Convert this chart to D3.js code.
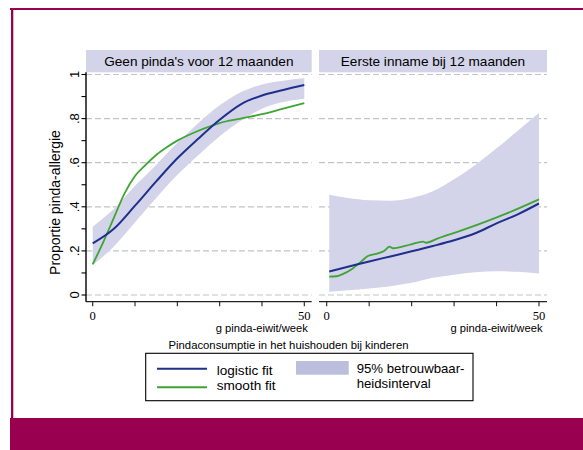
<!DOCTYPE html>
<html>
<head>
<meta charset="utf-8">
<script src="https://cdn.jsdelivr.net/npm/d3@7"></script>
<style>
  html, body { margin: 0; padding: 0; background: #fff; }
  svg { display: block; }
  text { font-family: 'Liberation Sans', Arial, sans-serif; fill: #000; }
  .serif { font-family: 'Liberation Serif', 'Times New Roman', serif; }
</style>
</head>
<body>
<svg id="chart" width="583" height="450"></svg>
<script>
// Proportion peanut allergy vs. household peanut consumption, two panels
// (no peanut before 12 months / first intake at 12 months).
var panelTitles = ["Geen pinda's voor 12 maanden", 'Eerste inname bij 12 maanden'];
var xTicks = [0, 10, 20, 30, 40, 50];
var xTickLabels = ['0', '', '', '', '', '50'];
var yTicks = [0, 0.1, 0.2, 0.3, 0.4, 0.5, 0.6, 0.7, 0.8, 0.9, 1];
var yLabelTicks = [0, 0.2, 0.4, 0.6, 0.8, 1];
var yLabels = ['0', '.2', '.4', '.6', '.8', '1'];

// panel 1
var p1X = [0, 5, 10, 15, 20, 25, 30, 35, 40, 45, 50];
var p1Logit = [0.234, 0.30, 0.405, 0.515, 0.62, 0.71, 0.795, 0.865, 0.905, 0.93, 0.952];
var p1Upper = [0.31, 0.39, 0.495, 0.59, 0.69, 0.78, 0.86, 0.92, 0.955, 0.972, 0.983];
var p1Lower = [0.136, 0.22, 0.33, 0.44, 0.545, 0.635, 0.72, 0.79, 0.845, 0.875, 0.89];
var p1SmoothX = [0, 2.5, 5, 7.5, 10, 12.5, 15, 17.5, 20, 25, 30, 35, 40, 45, 50];
var p1Smooth = [0.139, 0.24, 0.35, 0.46, 0.54, 0.59, 0.635, 0.67, 0.70, 0.745, 0.78, 0.80, 0.82, 0.845, 0.87];

// panel 2
var p2X = [0.6, 5, 10, 15, 20, 25, 30, 35, 40, 45, 50];
var p2Logit = [0.107, 0.128, 0.152, 0.175, 0.198, 0.222, 0.248, 0.28, 0.325, 0.366, 0.415];
var p2Upper = [0.455, 0.44, 0.43, 0.428, 0.44, 0.47, 0.525, 0.59, 0.665, 0.745, 0.825];
var p2Lower = [0.015, 0.022, 0.03, 0.04, 0.055, 0.078, 0.092, 0.103, 0.108, 0.105, 0.098];
var p2SmoothX = [0.6, 2.3, 4, 5.8, 8.1, 9.7, 12.1, 13.6, 14.8, 15.6, 19.9, 22.7, 23.4, 26.2, 32.1, 42.4, 50];
var p2Smooth = [0.083, 0.085, 0.097, 0.116, 0.151, 0.177, 0.189, 0.201, 0.219, 0.212, 0.23, 0.242, 0.237, 0.257, 0.295, 0.37, 0.434];

var legendLabels = ['logistic fit', 'smooth fit'];
var legendBand = ['95% betrouwbaar-', 'heidsinterval'];

(function () {
    var C = {
        maroon: '#990050',
        band: '#d3d3e9',
        strip: '#d3d3e9',
        swatch: '#bdbddd',
        blue: '#1f2f8c',
        green: '#3ea535',
        grid: '#c4c4c4'
    };

    var svg = d3.select('#chart');

    // frame: top rule, left rule, bottom band
    svg.append('rect').attr('x', 10).attr('y', 8).attr('width', 573).attr('height', 2).attr('fill', C.maroon);
    svg.append('rect').attr('x', 11).attr('y', 8).attr('width', 2.3).attr('height', 412).attr('fill', C.maroon);
    svg.append('rect').attr('x', 10).attr('y', 418).attr('width', 573).attr('height', 32).attr('fill', C.maroon);

    var y = d3.scaleLinear().domain([0, 1]).range([295, 74.5]);
    var AX_Y = 301.7, TOP = 72.3;

    var panels = [
        { left: 86, right: 311.7, x: d3.scaleLinear().domain([0, 50]).range([92.7, 304.3]),
          bx: p1X, logit: p1Logit, up: p1Upper, lo: p1Lower, sx: p1SmoothX, sm: p1Smooth },
        { left: 319, right: 547, x: d3.scaleLinear().domain([0, 50]).range([326.7, 539]),
          bx: p2X, logit: p2Logit, up: p2Upper, lo: p2Lower, sx: p2SmoothX, sm: p2Smooth }
    ];

    panels.forEach(function (p, i) {
        var g = svg.append('g');

        // strip header
        g.append('rect').attr('x', p.left).attr('y', 50).attr('width', p.right - p.left)
            .attr('height', TOP - 50).attr('fill', C.strip);
        g.append('text').attr('x', (p.left + p.right) / 2).attr('y', 65.5)
            .attr('text-anchor', 'middle').attr('font-size', 13.6).text(panelTitles[i]);

        // dashed grid
        yLabelTicks.forEach(function (v) {
            g.append('line').attr('x1', p.left).attr('x2', p.right)
                .attr('y1', y(v)).attr('y2', y(v))
                .attr('stroke', C.grid).attr('stroke-width', 1.2)
                .attr('stroke-dasharray', '6,3');
        });

        // CI band
        var bandData = p.bx.map(function (v, k) { return { x: v, lo: p.lo[k], up: p.up[k] }; });
        g.append('path').datum(bandData)
            .attr('fill', C.band)
            .attr('d', d3.area()
                .x(function (d) { return p.x(d.x); })
                .y0(function (d) { return y(d.lo); })
                .y1(function (d) { return y(d.up); })
                .curve(d3.curveMonotoneX));

        var logitData = p.bx.map(function (v, k) { return { x: v, y: p.logit[k] }; });
        var smoothData = p.sx.map(function (v, k) { return { x: v, y: p.sm[k] }; });
        var line = d3.line()
            .x(function (d) { return p.x(d.x); })
            .y(function (d) { return y(d.y); })
            .curve(d3.curveMonotoneX);

        g.append('path').datum(smoothData).attr('fill', 'none')
            .attr('stroke', C.green).attr('stroke-width', 1.8).attr('d', line);
        g.append('path').datum(logitData).attr('fill', 'none')
            .attr('stroke', C.blue).attr('stroke-width', 2).attr('d', line);

        // x axis
        g.append('line').attr('x1', p.left).attr('x2', p.right)
            .attr('y1', AX_Y).attr('y2', AX_Y).attr('stroke', '#222').attr('stroke-width', 1.3);
        xTicks.forEach(function (v, k) {
            g.append('line').attr('x1', p.x(v)).attr('x2', p.x(v))
                .attr('y1', AX_Y).attr('y2', AX_Y + 4.5).attr('stroke', '#222').attr('stroke-width', 1.1);
            if (xTickLabels[k]) {
                g.append('text').attr('class', 'serif').attr('x', p.x(v)).attr('y', 319.8)
                    .attr('text-anchor', 'middle').attr('font-size', 12.6).text(xTickLabels[k]);
            }
        });
        g.append('text').attr('x', p.x(50) + 3.5).attr('y', 331.8)
            .attr('text-anchor', 'end').attr('font-size', 11.2).text('g pinda-eiwit/week');
    });

    // y axis (left panel only)
    var ya = svg.append('g');
    ya.append('line').attr('x1', 86).attr('x2', 86).attr('y1', TOP).attr('y2', AX_Y)
        .attr('stroke', '#000').attr('stroke-width', 1.4);
    yTicks.forEach(function (v) {
        ya.append('line').attr('x1', 81.5).attr('x2', 86).attr('y1', y(v)).attr('y2', y(v))
            .attr('stroke', '#000').attr('stroke-width', 1.1);
    });
    yLabelTicks.forEach(function (v, k) {
        ya.append('text').attr('transform', 'translate(78.8,' + y(v) + ') rotate(-90)')
            .attr('text-anchor', 'middle').attr('font-size', 13).text(yLabels[k]);
    });
    ya.append('text').attr('transform', 'translate(59.5,202.5) rotate(-90)')
        .attr('text-anchor', 'middle').attr('font-size', 14).text('Proportie pinda-allergie');

    svg.append('text').attr('x', 288.5).attr('y', 348.5).attr('text-anchor', 'middle')
        .attr('font-size', 11.3).text('Pindaconsumptie in het huishouden bij kinderen');

    // legend
    var lg = svg.append('g');
    lg.append('rect').attr('x', 145.7).attr('y', 353.3).attr('width', 327.3).attr('height', 47.4)
        .attr('fill', '#fff').attr('stroke', '#000').attr('stroke-width', 1.1);
    [C.blue, C.green].forEach(function (c, k) {
        var yy = k === 0 ? 368.7 : 387.3;
        lg.append('line').attr('x1', 157).attr('x2', 207).attr('y1', yy).attr('y2', yy)
            .attr('stroke', c).attr('stroke-width', 2);
        lg.append('text').attr('x', 216.7).attr('y', k === 0 ? 374.5 : 390)
            .attr('font-size', 13.6).text(legendLabels[k]);
    });
    lg.append('rect').attr('x', 296).attr('y', 361).attr('width', 52.7).attr('height', 13.7)
        .attr('fill', C.swatch);
    legendBand.forEach(function (t, k) {
        lg.append('text').attr('x', 356.7).attr('y', k === 0 ? 373 : 387.5)
            .attr('font-size', 13.2).text(t);
    });
})();
</script>
</body>
</html>
